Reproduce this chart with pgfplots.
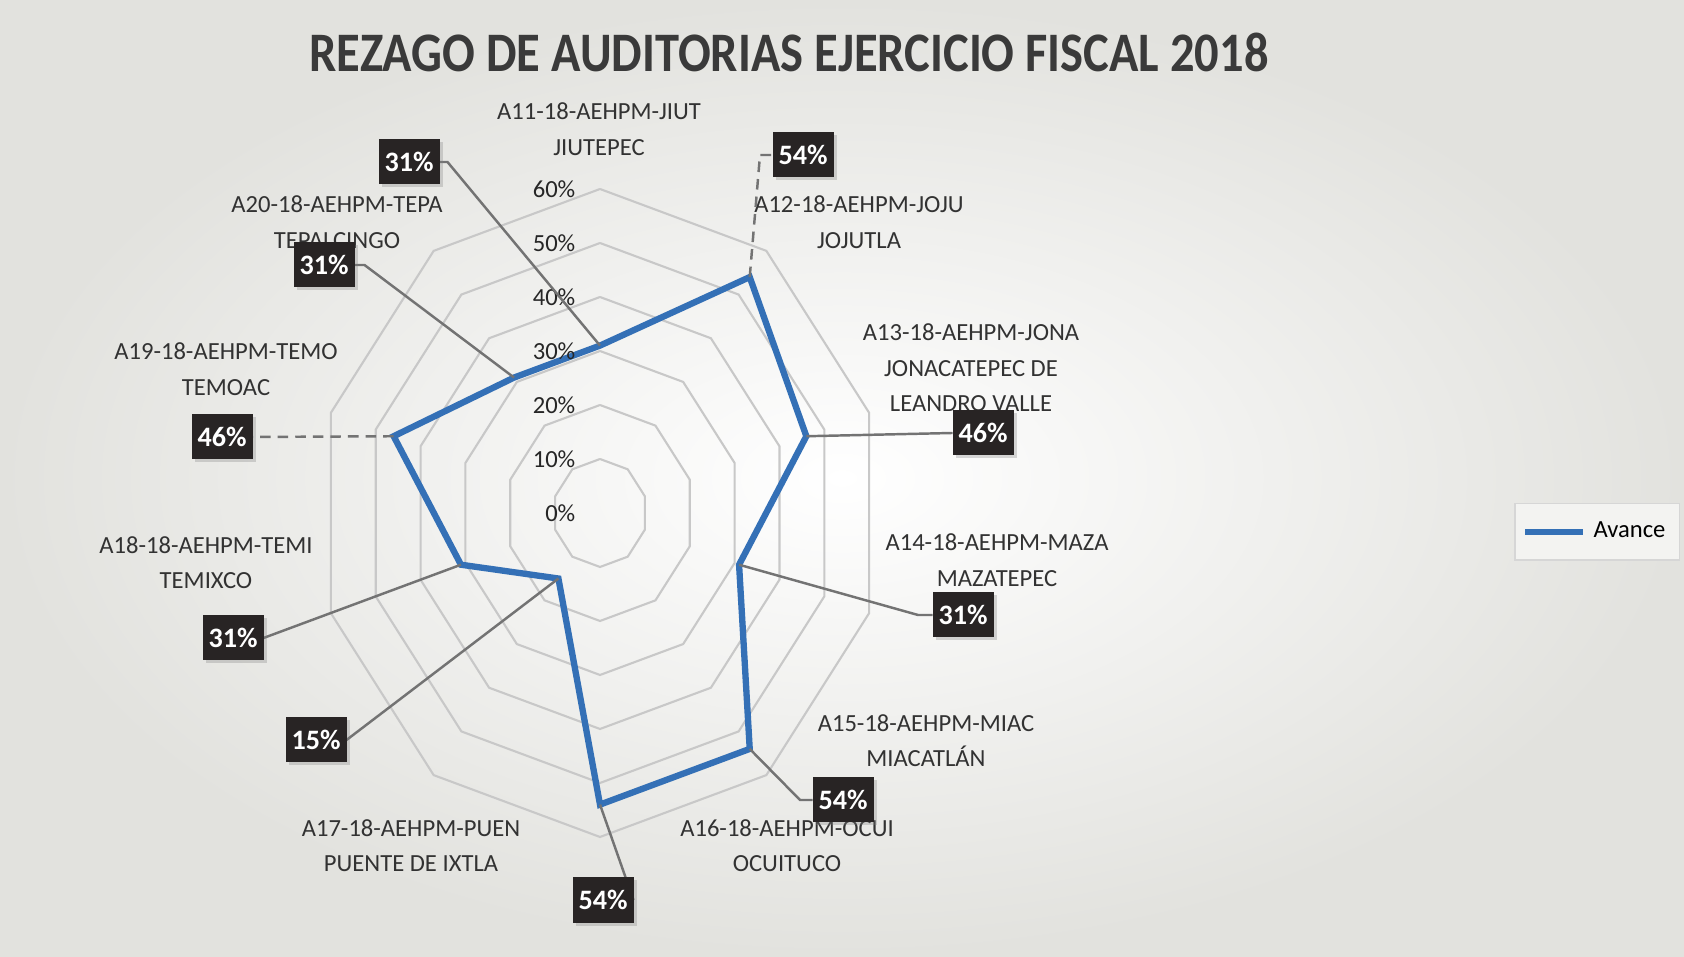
\documentclass[border=0pt]{standalone}
\usepackage{pgfplots}
\pgfplotsset{compat=1.18}
\usepgfplotslibrary{polar}
\usetikzlibrary{shadows,calc}
\usepackage{fontspec}
\setmainfont{Carlito}
\definecolor{avance}{RGB}{52,112,182}
\definecolor{ringc}{RGB}{200,200,200}
\definecolor{leaderc}{RGB}{115,115,115}
\definecolor{lbl}{RGB}{50,50,50}
\definecolor{boxc}{RGB}{40,36,36}
\definecolor{bg}{RGB}{226,226,222}
\definecolor{titlec}{RGB}{58,58,58}
\definecolor{legdraw}{RGB}{214,214,214}
\definecolor{legfill}{RGB}{243,243,241}
\begin{document}
\begin{tikzpicture}[x=1cm,y=1cm,
  cat/.style={font=\fontsize{7}{10.1}\selectfont, text=lbl, align=center, inner sep=0pt},
  boxl/.style={fill=boxc, text=white, font=\fontsize{8}{9}\selectfont\bfseries, minimum width=0.61cm, minimum height=0.45cm, inner sep=0pt, drop shadow={shadow xshift=0.03cm, shadow yshift=-0.03cm, opacity=0.3}},
  leader/.style={draw=leaderc, line width=0.7pt}]
\path[use as bounding box] (0,0) rectangle (16.84,9.56);
\shade[inner color=white, outer color=bg] (0,0) rectangle (16.84,9.56);
\node[font=\fontsize{13.8}{16}\selectfont\bfseries, text=titlec] at (7.89,9.04) {\scalebox{1}[1.15]{REZAGO DE AUDITORIAS EJERCICIO FISCAL 2018}};
\begin{scope}[shift={(6.00,4.43)}]
\begin{axis}[anchor=center, scale only axis,
  width=5.66cm, height=6.48cm,
  xmin=-60, xmax=60, ymin=-60, ymax=60,
  hide axis, clip=false,
  legend style={at={(2.262,0.471)}, anchor=center, draw=legdraw, fill=legfill, font=\fontsize{7}{8}\selectfont, inner xsep=2pt, inner ysep=3pt},
  legend cell align=left,
  legend image code/.code={\draw[#1] (0cm,0cm) -- (0.58cm,0cm);}]
\pgfplotsinvokeforeach{10,20,30,40,50,60}{
  \addplot[data cs=polar, color=ringc, line width=0.6pt, mark=none, forget plot]
    coordinates {(90,#1) (54,#1) (18,#1) (-18,#1) (-54,#1) (-90,#1) (-126,#1) (-162,#1) (162,#1) (126,#1) (90,#1)};
}
\addplot[data cs=polar, color=avance, line width=1.8pt, mark=none]
  coordinates {(90,31) (54,54) (18,46) (-18,31) (-54,54) (-90,54) (-126,15) (-162,31) (162,46) (126,31) (90,31)};
\addlegendentry{Avance}
\pgfplotsinvokeforeach{0,10,20,30,40,50,60}{
  \node[anchor=east, font=\fontsize{7}{8}\selectfont, text=black!85, inner sep=0pt, xshift=-0.24cm] at (axis cs:0,#1) {#1\%};
}
\coordinate (p11) at (axis cs:0,31);
\coordinate (p12) at (axis cs:{54*cos(54)},{54*sin(54)});
\coordinate (p13) at (axis cs:{46*cos(18)},{46*sin(18)});
\coordinate (p14) at (axis cs:{31*cos(-18)},{31*sin(-18)});
\coordinate (p15) at (axis cs:{54*cos(-54)},{54*sin(-54)});
\coordinate (p16) at (axis cs:0,-54);
\coordinate (p17) at (axis cs:{15*cos(-126)},{15*sin(-126)});
\coordinate (p18) at (axis cs:{31*cos(-162)},{31*sin(-162)});
\coordinate (p19) at (axis cs:{46*cos(162)},{46*sin(162)});
\coordinate (p20) at (axis cs:{31*cos(126)},{31*sin(126)});
\end{axis}
\end{scope}
% category labels
\node[cat] at (5.99,8.27) {A11-18-AEHPM-JIUT\\JIUTEPEC};
\node[cat] at (8.59,7.34) {A12-18-AEHPM-JOJU\\JOJUTLA};
\node[cat] at (9.71,5.88) {A13-18-AEHPM-JONA\\JONACATEPEC DE\\LEANDRO VALLE};
\node[cat] at (9.97,3.96) {A14-18-AEHPM-MAZA\\MAZATEPEC};
\node[cat] at (9.26,2.155) {A15-18-AEHPM-MIAC\\MIACATLÁN};
\node[cat] at (7.87,1.105) {A16-18-AEHPM-OCUI\\OCUITUCO};
\node[cat] at (4.11,1.105) {A17-18-AEHPM-PUEN\\PUENTE DE IXTLA};
\node[cat] at (2.06,3.935) {A18-18-AEHPM-TEMI\\TEMIXCO};
\node[cat] at (2.26,5.87) {A19-18-AEHPM-TEMO\\TEMOAC};
\node[cat] at (3.37,7.34) {A20-18-AEHPM-TEPA\\TEPALCINGO};
% leader lines
\path (4.09,7.94) coordinate (c11) (8.03,8.01) coordinate (c12) (9.83,5.23) coordinate (c13)
      (9.63,3.41) coordinate (c14) (8.43,1.56) coordinate (c15) (6.03,0.56) coordinate (c16)
      (3.16,2.16) coordinate (c17) (2.33,3.18) coordinate (c18) (2.22,5.19) coordinate (c19)
      (3.24,6.91) coordinate (c20);
\draw[leader] ($(c11)+(0.305,0)$) -- ++(0.08,0) -- (p11);
\draw[leader] ($(c20)+(0.305,0)$) -- ++(0.1,0) -- (p20);
\draw[leader, densely dashed] (p12) -- (7.60,8.01) -- ($(c12)-(0.305,0)$);
\draw[leader] (p13) -- ($(c13)-(0.305,0)$);
\draw[leader] (p14) -- (9.18,3.41) -- ($(c14)-(0.305,0)$);
\draw[leader] (p15) -- (8.00,1.56) -- ($(c15)-(0.305,0)$);
\draw[leader] (p16) -- ($(c16)+(0.305,0)$);
\draw[leader] (p17) -- ($(c17)+(0.305,0)$);
\draw[leader] (p18) -- ($(c18)+(0.305,0)$);
\draw[leader, densely dashed] (p19) -- ($(c19)+(0.305,0)$);
% data label boxes
\node[boxl] at (c11) {31\%};
\node[boxl] at (c12) {54\%};
\node[boxl] at (c13) {46\%};
\node[boxl] at (c14) {31\%};
\node[boxl] at (c15) {54\%};
\node[boxl] at (c16) {54\%};
\node[boxl] at (c17) {15\%};
\node[boxl] at (c18) {31\%};
\node[boxl] at (c19) {46\%};
\node[boxl] at (c20) {31\%};
\end{tikzpicture}
\end{document}
